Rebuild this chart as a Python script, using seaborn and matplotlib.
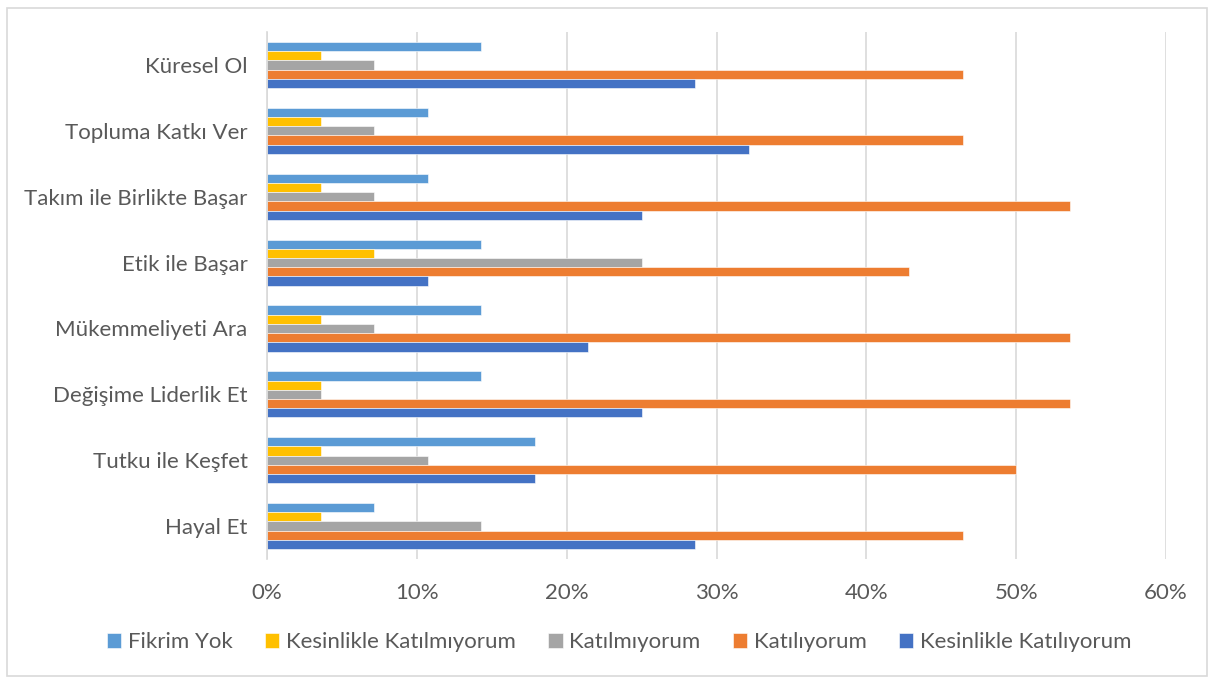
import pandas as pd
import seaborn as sns
import matplotlib.pyplot as plt
from matplotlib.patches import Rectangle
from matplotlib.ticker import PercentFormatter

categories = ['Küresel Ol', 'Topluma Katkı Ver', 'Takım ile Birlikte Başar', 'Etik ile Başar',
              'Mükemmeliyeti Ara', 'Değişime Liderlik Et', 'Tutku ile Keşfet', 'Hayal Et']
series = ['Fikrim Yok', 'Kesinlikle Katılmıyorum', 'Katılmıyorum', 'Katılıyorum', 'Kesinlikle Katılıyorum']

fikrim_yok = [14.29, 10.71, 10.71, 14.29, 14.29, 14.29, 17.86, 7.14]
kesinlikle_katilmiyorum = [3.57, 3.57, 3.57, 7.14, 3.57, 3.57, 3.57, 3.57]
katilmiyorum = [7.14, 7.14, 7.14, 25.0, 7.14, 3.57, 10.71, 14.29]
katiliyorum = [46.43, 46.43, 53.57, 42.86, 53.57, 53.57, 50.0, 46.43]
kesinlikle_katiliyorum = [28.57, 32.14, 25.0, 10.71, 21.43, 25.0, 17.86, 28.57]

colors = ['#5B9BD5', '#FFC000', '#A5A5A5', '#ED7D31', '#4472C4']

values = [fikrim_yok, kesinlikle_katilmiyorum, katilmiyorum, katiliyorum, kesinlikle_katiliyorum]
rows = []
for s, vals in zip(series, values):
    for c, v in zip(categories, vals):
        rows.append({'Kategori': c, 'Seri': s, 'Oran': v})
df = pd.DataFrame(rows)

sns.set_style('white')
plt.rcParams['font.family'] = ['Lato', 'DejaVu Sans']
text_color = '#595959'

fig = plt.figure(figsize=(12.14, 6.84), dpi=100)
ax = fig.add_axes([0.22, 0.1827, 0.7405, 0.7705])

sns.barplot(data=df, y='Kategori', x='Oran', hue='Seri', order=categories, hue_order=series,
            palette=colors, saturation=1, orient='h', width=0.7, ax=ax, errorbar=None,
            edgecolor='white', linewidth=0.4)

ax.set_xlim(0, 60)
ax.set_xticks(range(0, 61, 10))
ax.xaxis.set_major_formatter(PercentFormatter(decimals=0))
ax.grid(axis='x', color='#D9D9D9', linewidth=1.2)
ax.set_axisbelow(True)
for side in ['top', 'right', 'bottom']:
    ax.spines[side].set_visible(False)
ax.spines['left'].set_color('#D9D9D9')
ax.spines['left'].set_linewidth(1.2)
ax.tick_params(axis='both', length=0, labelsize=16, labelcolor=text_color)
ax.tick_params(axis='x', pad=17)
ax.tick_params(axis='y', pad=14)
ax.set_xlabel('')
ax.set_ylabel('')

ax.legend(loc='center', bbox_to_anchor=(0.51, 0.061), bbox_transform=fig.transFigure,
          ncol=5, frameon=False, fontsize=16, labelcolor=text_color,
          handlelength=0.65, handleheight=0.65, handletextpad=0.3, columnspacing=1.45)

fig.patches.append(Rectangle((0.006, 0.011), 0.988, 0.978, transform=fig.transFigure,
                             fill=False, edgecolor='#D9D9D9', linewidth=1.2))

fig.savefig('out.png', dpi=100)
